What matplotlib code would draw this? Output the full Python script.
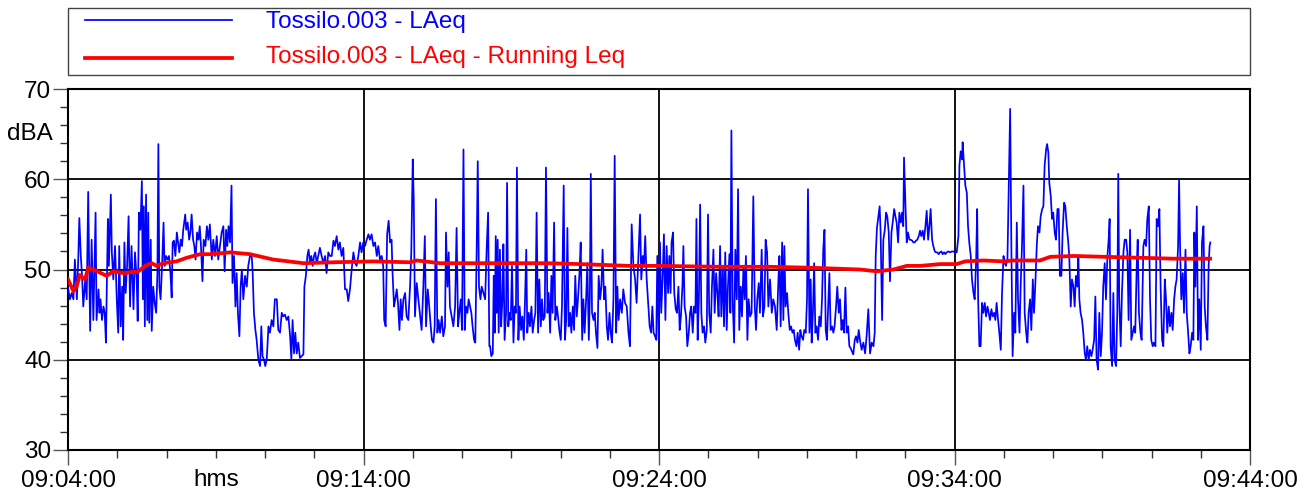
import matplotlib
matplotlib.use("Agg")
import matplotlib.pyplot as plt
from matplotlib.ticker import MultipleLocator, FuncFormatter
from matplotlib.lines import Line2D
from matplotlib.patches import Rectangle
import matplotlib.transforms as mtransforms

plt.rcParams['font.family'] = ['Liberation Sans', 'DejaVu Sans']

# ---------------- data ----------------
start_time = (9, 4, 0)          # 09:04:00, x = seconds after this
x_range_s = (0, 2400)           # 09:04:00 .. 09:44:00
y_range_db = (30, 70)
unit_x_label = "hms"
unit_y_label = "dBA"
series_names = ["Tossilo.003 - LAeq", "Tossilo.003 - LAeq - Running Leq"]

# LAeq (seconds after 09:04:00, dBA)
laeq_a = [(0,48.0),(4,46.7),(7.5,47.4),(11,46.7),(14,51.1),(18,46.7),(21,51.5),(23,55.7),(26,51.5),(28.5,49.3),
          (31,45.9),(35,48.9),(38,46.7),(41,58.6),(43,50.4),(45,43.2),(48,53.3),(51.5,44.4),(56,56.3),(58,44.4),
          (62,47.8),(64,45.2),(66,46.7),(69,44.4),(72,45.9),(74.5,45.2),(77,41.9),(81,55.6),(83,50.4),(87,58.3),
          (89,51.9),(92,48.9),(95.5,52.6),(99,46.7),(102,43.0),(104,52.6),(107,43.7),(110,48.1),(112,42.2),(114.5,53.0),
          (117,47.4),(120,50.4),(123,55.9),(126,45.9),(129,52.6),(133,45.6),(136,51.9),(139.5,48.9),(141.5,44.3),(144,56.3),
          (147,54.4),(150,59.8),(152,46.7),(154,57.0),(156,43.7),(158.5,58.3),(161,44.4),(163,56.3),(165,44.1),(168,53.3),
          (170,43.2),(173,48.1),(176,46.3),(179,45.2),(181.5,49.6),(183.5,63.9),(185.5,48.1),(188,46.7),(191,50.4),(194,55.2),
          (196,50.4),(199,51.5),(202,51.1),(205,51.5),(208,49.6),(210.5,46.9),(212.5,53.0),(215,53.2),(218,51.5),(221,54.1),
          (223.5,53.0),(226,51.9),(229,53.3),(231.5,52.6),(234,54.4),(238,56.1),(240,54.4),(243,55.2),(246,53.3),(248.5,54.1),
          (251,56.1),(254,53.3),(256.5,52.6),(259,51.1),(262,54.1),(265,53.3),(267.5,54.8),(270,52.6),(273,48.7),(275.5,53.3),
          (279,52.6),(282,54.8),(285,53.3)]
laeq_b = [(288,55.0),(292,51.1),(295,53.3),(298.5,51.5),(302,53.7),(305,51.1),(308.5,52.6),(312,54.1),(315.5,54.8),(318,49.8),
          (321,54.4),(323.5,52.6),(326,54.8),(329,53.0),(332,59.3),(334,48.5),(337,51.5),(340,45.9),(342.5,49.6),(345,45.2),
          (348,42.6),(350.5,48.1),(353,50.0),(356,46.7),(359.5,49.3),(363,48.1),(366,50.4),(369.5,51.5),(373,51.5),(375,49.6),
          (377.5,45.2),(380.5,43.3),(383,42.2),(386.5,40.0),(390,39.3),(392.5,43.7),(395,40.4),(398,40.0),(400.5,39.3),(403.5,40.0),
          (407,43.7),(410,43.0),(413.5,44.4),(417,43.7),(420,46.7),(424,46.7),(427,43.3),(430.5,43.0),(434,45.2),(437,44.8),
          (440.5,45.0),(444,44.4),(447.5,44.8),(451,42.6),(453.5,40.0),(456,44.4),(459,40.7),(461.5,43.0),(464.5,40.7),(467.5,41.9),
          (471,40.2),(474.5,40.4),(478,40.6),(480,48.1),(483,49.3),(486,51.5),(488.5,52.2),(491.5,50.7),(494,51.5),(497,50.4),
          (499.5,51.5),(502,51.9),(505,50.7),(508,51.5),(511.5,52.4),(515,51.5),(518.5,50.7),(522,51.5),(525,49.6),(528.5,51.9),
          (532,51.5),(535.5,51.5),(539,53.2),(542,52.6),(545.5,53.7),(549,52.2),(552,53.0),(555.5,51.5),(559,52.4),(562.5,47.8),
          (566,47.8),(569,46.5)]
laeq_c = [(572.5,47.8),(576,50.0),(579.5,51.9),(583,50.7),(586,50.4),(589.5,51.5),(593,53.0),(596,51.9),(599.5,53.0),(603,52.6),
          (606.5,53.3),(610,53.9),(613,53.3),(616.5,53.9),(620,52.6),(623.5,53.0),(627,51.5),(630,52.6),(633.5,51.1),(637,51.5),
          (640,50.4),(642,44.4),(645,43.7),(648,53.9),(651,55.4),(654,53.0),(657,53.3),(659,49.6),(662,45.9),(664.5,46.7),
          (667.5,47.8),(670,46.3),(673,43.3),(675.5,46.7),(678,44.4),(681,46.7),(684.5,47.4),(687.5,44.8),(691,44.4),(694.5,48.1),
          (697,51.9),(700,62.2),(702,57.8),(704.5,44.8),(708,48.5),(711.5,46.7),(715,44.8),(718,43.3),(721.5,48.1),(724.5,53.7),
          (727,43.7),(730.5,47.8),(733.5,45.9),(736.5,43.7),(739,42.2),(742,41.9),(744.5,43.7),(747,57.8),(750,43.0),(752.5,44.4),
          (755.5,43.0),(759,44.8),(762,42.6),(765.5,43.7),(767.5,54.1),(770.5,48.1),(773,51.9),(775.5,45.9),(779,44.8),(782.5,43.7),
          (786,45.9),(789,54.6),(792,43.7),(794.5,45.2),(797.5,46.7),(800,43.3),(803,63.3),(805.5,43.3),(808,45.9),(811,45.2),
          (813.5,46.7),(816.5,45.9),(819,45.2),(821.5,43.7),(824.5,42.2),(827,41.9),(830,53.0),(832,62.0),(834.5,48.1),(837.5,46.7),
          (840,48.1),(843.5,47.4),(847,46.7),(850,52.2),(853,56.3),(855.5,41.5)]
laeq_d = [(857,41.5),(859.5,40.4),(862.5,40.7),(864.5,49.3),(866.5,43.0),(868.5,53.7),(870.5,45.2),(872.5,53.3),(874.5,43.0),(877,52.2),
          (879.5,43.7),(882,46.7),(884,52.8),(886.5,42.2),(889.5,45.2),(891.5,59.6),(894,43.7),(896,45.2),(899,44.4),(901.5,50.4),
          (904.5,41.9),(907,45.9),(909.5,45.2),(911.5,61.3),(914.5,42.2),(917,45.9),(920,43.3),(922.5,44.8),(925.5,42.2),(928,46.7),
          (930.5,52.2),(932.5,43.0),(935.5,45.2),(938,43.7),(941,45.9),(943.5,43.0),(946.5,44.4),(949,45.2),(951.5,56.3),(954.5,43.0),
          (957,48.9),(960,43.7),(962.5,46.7),(965,44.4),(968,44.8),(970.5,61.3),(973.5,45.2),(976,47.4),(979,43.0),(981.5,49.3),
          (984,45.2),(987,55.2),(989.5,44.4),(992.5,45.9),(995,44.8),(997.5,43.3),(1000.5,42.2),(1003,45.9),(1006.5,59.3),(1009,42.2),
          (1011.5,44.4),(1014,54.6),(1016.5,43.7),(1019.5,45.2),(1022,43.0),(1025,45.9),(1027.5,43.3),(1030,49.3),(1033,44.8),(1035.5,46.7),
          (1038.5,49.6),(1041,53.0),(1044,42.2),(1046.5,46.7),(1049,43.0),(1052,46.7),(1054.5,50.7),(1057.5,42.2),(1059.5,46.7),(1061.5,60.6),
          (1064,45.2),(1067,44.4),(1069.5,45.2),(1072,43.0),(1075,41.3),(1077.5,49.3),(1080.5,46.7),(1083,48.1),(1085.5,52.2),(1088.5,46.7),
          (1091,48.1),(1094,43.7),(1096.5,42.2),(1099.5,45.2),(1102,43.0),(1104.5,41.9),(1107.5,46.7),(1110,62.6),(1113,43.0),(1115.5,48.1),
          (1118,44.4),(1121,46.7),(1124.5,45.2),(1127.5,47.8),(1131,46.3),(1134.5,45.9),(1138,43.0)]
laeq_e = [(1141,41.5),(1144.5,55.0),(1148,50.4),(1151.5,48.9),(1154.5,46.3),(1158,51.1),(1161.5,56.1),(1164,48.9),(1167,51.5),(1169.5,50.4),
          (1172,53.7),(1175,48.9),(1178.5,45.9),(1181,43.7),(1184,43.0),(1186.5,45.9),(1189,43.0),(1192,42.6),(1194.5,42.2),(1196.5,51.5),
          (1199.5,42.2),(1202,53.0),(1204.5,45.2),(1207.5,49.3),(1210,53.9),(1213,44.4),(1215.5,52.6),(1218.5,47.4),(1221,51.5),(1223.5,47.4),
          (1225.5,53.0),(1228.5,54.1),(1231,47.4),(1234,45.6),(1236.5,45.2),(1239.5,48.1),(1242,43.3),(1244.5,44.8),(1247.5,48.1),(1249.5,52.6),
          (1252,45.9),(1255,44.8),(1257.5,41.5),(1260.5,43.0),(1263,45.2),(1265.5,45.9),(1268.5,43.0),(1271,45.9),(1274,45.2),(1276,55.6),
          (1278.5,42.2),(1281,46.7),(1283.5,57.2),(1286,45.2),(1288.5,43.0),(1291.5,43.7),(1294,41.9),(1297,43.3),(1299.5,56.1),(1302,45.2),
          (1305,43.0),(1307.5,48.1),(1310.5,52.2),(1313,45.2),(1316,49.6),(1318.5,47.4),(1321,44.8),(1324,52.6),(1326.5,44.8),(1329.5,50.4),
          (1332,43.7),(1334.5,51.9),(1337.5,43.3),(1340,48.1),(1343,51.7),(1345,45.2),(1347,65.4),(1349.5,46.7),(1352.5,41.9),(1355,52.2),
          (1358,46.7),(1360.5,58.9),(1363,43.3),(1366,48.1),(1368.5,44.8),(1371.5,50.4),(1374,46.7),(1376.5,51.5),(1379.5,42.2),(1382,46.7),
          (1385,44.8),(1388,45.2),(1391.5,58.1),(1394.5,45.9),(1397,43.3),(1399.5,46.7),(1402.5,48.5),(1405,45.2),(1408.5,52.2),(1411,44.8),
          (1414,45.9),(1416.5,53.3),(1419.5,51.9),(1422,45.9)]
laeq_f = [(1425.5,48.9),(1429,45.2),(1432,46.7),(1435.5,45.9),(1439,43.3),(1442.5,48.9),(1444.5,51.5),(1447,43.7),(1450,53.0),(1452.5,44.4),
          (1454.5,52.6),(1457,45.9),(1460,47.4),(1462.5,45.2),(1465.5,43.3),(1468,43.7),(1471,43.0),(1473.5,43.3),(1476,42.2),(1479,41.5),
          (1481.5,43.0),(1484.5,41.1),(1487,43.3),(1489.5,42.6),(1492.5,42.2),(1495,43.3),(1498,43.0),(1500.5,46.7),(1502.5,58.9),(1505.5,43.0),
          (1508,48.9),(1510,41.9),(1512.5,45.2),(1515,50.7),(1517.5,43.0),(1520,43.7),(1523,42.2),(1525.5,44.8),(1528.5,43.7),(1531,46.7),
          (1533.5,52.2),(1536,54.4),(1538.5,43.3),(1541,42.2),(1544,46.7),(1546,49.6),(1548.5,43.3),(1551.5,43.7),(1554,43.0),(1556.5,43.7),
          (1559.5,45.9),(1562,48.1),(1565,45.2),(1567.5,46.7),(1570.5,43.3),(1573,44.4),(1575.5,43.0),(1578.5,48.0),(1581,43.0),(1584,43.7),
          (1586.5,41.5),(1589,41.3),(1592,40.9),(1594.5,40.6),(1597.5,42.2),(1600,42.6),(1603,41.9),(1605.5,43.3),(1608,42.2),(1611.5,41.1),
          (1615,41.9),(1618.5,40.7),(1621.5,42.6),(1625,45.6),(1628.5,40.7),(1632,41.9),(1635.5,41.5),(1638,43.0),(1640,51.5),(1642.5,54.6),
          (1645.5,55.9),(1648,57.0),(1650,54.1),(1653,44.4),(1655.5,53.3),(1658.5,54.4),(1661,56.3),(1663.5,55.9),(1666.5,54.1),(1669,48.7),
          (1672,54.1),(1674.5,55.2),(1677.5,56.7),(1680,55.9),(1682.5,55.2),(1685.5,53.0),(1688,56.3),(1691,55.2),(1693.5,56.3),(1696,54.8),
          (1697.5,62.4),(1700.5,57.0),(1703,53.0),(1705.5,54.1)]
laeq_g = [(1708.5,53.3),(1711,53.3),(1714,53.2),(1716.5,53.0),(1719,53.0),(1722,53.2),(1724.5,53.3),(1727.5,53.7),(1730,54.3),(1732.5,53.7),
          (1735.5,54.3),(1738,53.3),(1741,54.8),(1743.5,56.5),(1746.5,53.3),(1749,54.8),(1751.5,56.7),(1754.5,53.3),(1757,52.6),(1760,52.0),
          (1762.5,51.9),(1765,51.9),(1768,51.7),(1770.5,51.9),(1773.5,52.0),(1776,51.7),(1779,51.9),(1781.5,51.7),(1784,51.9),(1787.5,52.0),
          (1791,51.9),(1794.5,52.0),(1797.5,52.0),(1801,51.9),(1804.5,51.9),(1808,53.7),(1810,61.5),(1812.5,63.1),(1815.5,62.2),(1816.5,64.1),
          (1819.5,61.5),(1822,59.3),(1825,58.5),(1827.5,54.8),(1830,53.0),(1833,51.5),(1835.5,48.9),(1838.5,47.4),(1841,46.7),(1844,51.1),
          (1846,56.7),(1848,46.7),(1850.5,41.5),(1853,41.5),(1856,46.3),(1858.5,45.2),(1861.5,46.3),(1864,44.8),(1867,45.9),(1869.5,45.2),
          (1872,44.4),(1875,45.6),(1877.5,44.8),(1880.5,45.2),(1883,44.4),(1885.5,46.3),(1888.5,44.4),(1891,43.0),(1894,41.1),(1896.5,47.4),
          (1899.5,51.5),(1902,50.7),(1904.5,50.4),(1907.5,51.1),(1910,58.5),(1913,67.8),(1915.5,52.2),(1918,40.4),(1921,45.2),(1923.5,43.0),
          (1926.5,55.2),(1929,46.7),(1932,43.0),(1934.5,48.5),(1937,52.6),(1940,59.3),(1942.5,45.2),(1945.5,43.0),(1948,41.9),(1950.5,45.2),
          (1953.5,46.7),(1956,43.3),(1959,48.9),(1961.5,45.2),(1964.5,48.9),(1967,52.6),(1969.5,54.8),(1972.5,54.1),(1975,55.9),(1978,56.7),
          (1980.5,57.0),(1983,61.5),(1986,63.3),(1988,63.9),(1990.5,63.0)]
laeq_h = [(1992.5,59.6),(1995.5,58.1),(1998,55.6),(2000.5,56.3),(2003.5,54.1),(2006,53.3),(2009,56.7),(2011.5,56.7),(2014,49.3),(2017,49.3),
          (2019.5,54.1),(2022.5,57.4),(2025,57.0),(2028,54.8),(2030.5,53.3),(2033,51.5),(2036,45.9),(2038.5,48.9),(2041.5,48.1),(2044,45.9),
          (2046.5,49.3),(2049.5,48.1),(2051.5,51.5),(2053.5,46.7),(2056,45.2),(2059,44.4),(2061.5,43.0),(2064.5,40.7),(2067,40.0),(2069.5,41.5),
          (2072.5,40.0),(2075,41.1),(2078,40.4),(2080.5,41.1),(2083.5,42.2),(2086,47.0),(2088.5,40.0),(2091.5,38.9),(2094,45.2),(2097,40.4),
          (2099.5,43.0),(2102,48.1),(2105,50.7),(2107.5,46.7),(2110.5,51.5),(2113,53.3),(2115,55.6),(2117,41.5),(2120,39.3),(2122.5,47.4),
          (2125,40.0),(2128,39.3),(2130.5,45.2),(2132.5,60.6),(2134.5,46.7),(2137.5,41.5),(2140,47.4),(2143,51.9),(2145.5,53.3),(2148.5,53.3),
          (2151,51.9),(2153.5,44.4),(2156.5,54.4),(2159,42.2),(2162,43.0),(2164.5,43.7),(2167,43.0),(2170,50.4),(2172,53.3),(2174.5,45.2),
          (2177.5,43.0),(2180,42.2),(2183.5,52.6),(2186,53.3),(2189,52.6),(2191.5,55.6),(2194.5,57.0),(2197,46.7),(2199.5,42.2),(2202.5,41.5),
          (2205,41.9),(2208,41.5),(2210.5,55.6),(2213.5,54.8),(2216,56.7),(2218.5,48.1),(2221.5,42.2),(2224,41.5),(2227,48.9),(2229.5,46.7),
          (2232,43.0),(2235,45.9),(2237.5,43.7),(2240.5,45.2),(2243,43.3),(2246,46.7),(2248.5,48.1),(2251,48.9),(2254,52.6),(2256,60.0),
          (2258,52.6),(2260.5,46.7),(2263.5,49.6),(2266,45.2),(2269,52.2),(2271.5,45.2),(2274,43.3),(2277,40.7),(2279.5,41.5),(2282.5,43.0),
          (2285,42.2),(2287,54.1),(2289,48.1),(2292,57.0),(2294.5,42.2),(2297,46.7),(2300,41.1),(2302.5,53.0),(2305.5,54.8),(2308,45.9),
          (2310.5,43.7),(2313.5,42.2),(2316,50.4),(2318,52.6),(2319.5,53.0)]

# Running Leq (seconds after 09:04:00, dBA)
running_leq = [(0,48.9),(11,47.6),(17.5,48.1),(24,49.4),(34.5,48.9),(41,50.2),(51.5,50.0),(78.5,49.3),(92,49.8),(112.5,49.6),
               (143,49.8),(156.5,50.4),(170,50.7),(180,50.4),(193.5,50.7),(220.5,50.9),(241,51.3),(268,51.7),(288.5,51.7),(329,51.9),
               (369.5,51.7),(417,51.1),(478,50.7),(539,50.8),(620,50.9),(694.5,50.8),(708,51.0),(755.5,50.7),(789.5,50.7),(857,50.7),
               (972,50.7),(1039.5,50.6),(1141.5,50.4),(1202,50.4),(1324,50.3),(1425.5,50.3),(1506.5,50.2),(1608,50.0),(1642,49.8),(1676,50.0),
               (1703,50.4),(1730,50.4),(1770.5,50.6),(1804.5,50.6),(1821.5,50.9),(1858.5,51.0),(1899.5,50.9),(1919.5,51.0),(1973.5,51.0),(1994,51.4),
               (2041.5,51.5),(2109,51.4),(2176.5,51.3),(2244.5,51.2),(2319,51.2)]

# ---------------- figure ----------------
W, H = 1308, 492
FS = 17.5
fig = plt.figure(figsize=(W / 100, H / 100), dpi=100)
ax = fig.add_axes([68 / W, 1 - 450 / H, (1250 - 68) / W, (450 - 89) / H])

laeq = laeq_a + laeq_b + laeq_c + laeq_d + laeq_e + laeq_f + laeq_g + laeq_h
bt = [p[0] for p in laeq]
bv = [p[1] for p in laeq]
rt = [p[0] for p in running_leq]
rv = [p[1] for p in running_leq]

ax.plot(bt, bv, color='#0000ff', lw=1.25, zorder=3)
ax.plot(rt, rv, color='#ff0000', lw=2.7, zorder=4, solid_joinstyle='round')

ax.set_xlim(*x_range_s)
ax.set_ylim(*y_range_db)

def fmt_time(s, pos=None):
    tot = start_time[0] * 3600 + start_time[1] * 60 + start_time[2] + int(round(s))
    return f"{tot // 3600:02d}:{(tot % 3600) // 60:02d}:{tot % 60:02d}"

ax.xaxis.set_major_locator(MultipleLocator(600))
ax.xaxis.set_minor_locator(MultipleLocator(100))
ax.xaxis.set_major_formatter(FuncFormatter(fmt_time))
ax.yaxis.set_major_locator(MultipleLocator(10))
ax.yaxis.set_minor_locator(MultipleLocator(2))

ax.grid(which='major', color='black', lw=1.3, zorder=1)
for sp in ax.spines.values():
    sp.set_linewidth(1.5)
    sp.set_color('black')

ax.tick_params(axis='both', which='major', direction='out', length=11, width=1.0,
               color='#555555', labelsize=FS)
ax.tick_params(axis='both', which='minor', direction='out', length=6, width=1.0, color='#333333')
ax.tick_params(axis='y', which='major', pad=1)
ax.tick_params(axis='x', which='major', pad=3.5)

# unit labels
ax.text(-0.013, 65, unit_y_label, transform=mtransforms.blended_transform_factory(ax.transAxes, ax.transData),
        ha='right', va='center', fontsize=FS)
ax.text(300, -0.054, unit_x_label, transform=mtransforms.blended_transform_factory(ax.transData, ax.transAxes),
        ha='center', va='top', fontsize=FS)

# legend box
def fx(px):
    return px / W

def fy(py):
    return 1 - py / H

fig.patches.append(Rectangle((fx(68), fy(75)), fx(1250) - fx(68), fy(8) - fy(75),
                             transform=fig.transFigure, fill=False, edgecolor='#444444', lw=1.0))
fig.lines.append(Line2D([fx(85), fx(232)], [fy(20), fy(20)], transform=fig.transFigure,
                        color='#0000ff', lw=1.25))
fig.lines.append(Line2D([fx(85), fx(232)], [fy(58), fy(58)], transform=fig.transFigure,
                        color='#ff0000', lw=2.7))
fig.text(fx(266), fy(22), series_names[0], color='#0000ff', fontsize=FS, ha='left', va='center')
fig.text(fx(266), fy(57), series_names[1], color='#ff0000', fontsize=FS, ha='left', va='center')

fig.savefig("out.png", dpi=100)
